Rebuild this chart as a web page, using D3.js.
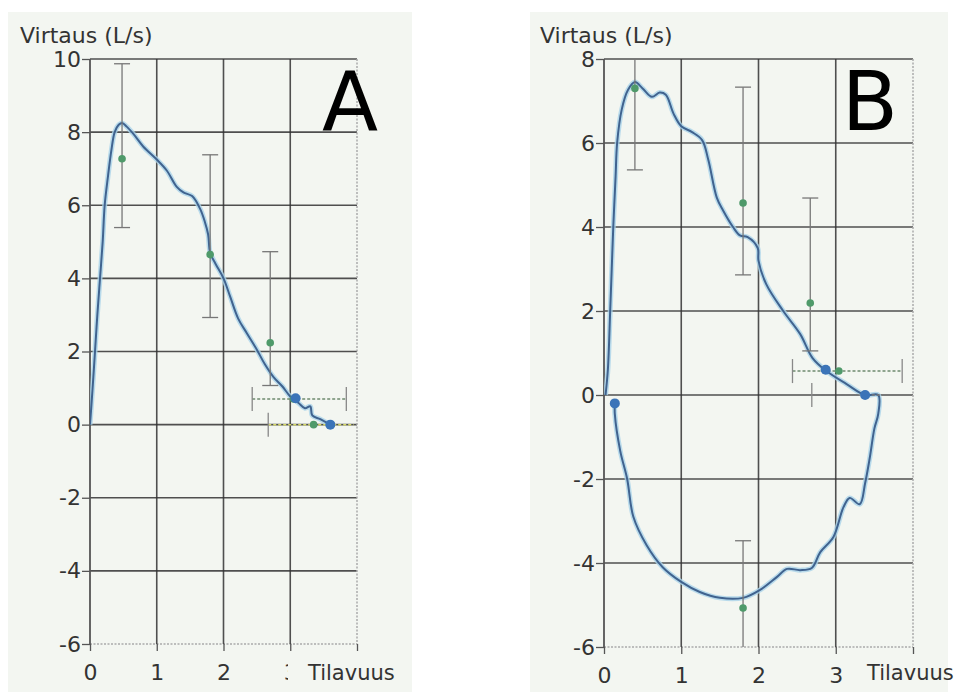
<!DOCTYPE html>
<html>
<head>
<meta charset="utf-8">
<script src="https://cdn.jsdelivr.net/npm/d3@7"></script>
<style>
  body { margin: 0; background: #fff; }
  text { font-family: "DejaVu Sans", Verdana, sans-serif; fill: #333; }
</style>
</head>
<body>
<svg width="956" height="692"></svg>
<script>
// flow-volume curve, panel A  [volume L, flow L/s]
var curveA = [
  [0.0, 0.0], [0.02, 0.5], [0.05, 1.3], [0.075, 2.0], [0.11, 3.0], [0.15, 4.0],
  [0.19, 5.0], [0.22, 6.0], [0.27, 6.8], [0.32, 7.5], [0.37, 8.0], [0.43, 8.2],
  [0.48, 8.25], [0.55, 8.15], [0.65, 7.95], [0.8, 7.6], [1.0, 7.25], [1.15, 6.95],
  [1.3, 6.5], [1.4, 6.35], [1.53, 6.25], [1.65, 5.9], [1.72, 5.55], [1.77, 5.2],
  [1.8, 4.7], [1.88, 4.4], [2.0, 4.0], [2.1, 3.5], [2.22, 2.9], [2.35, 2.5],
  [2.5, 2.05], [2.62, 1.65], [2.75, 1.3], [2.88, 1.05], [3.0, 0.77], [3.12, 0.6],
  [3.22, 0.45], [3.3, 0.5], [3.33, 0.25], [3.45, 0.15], [3.6, 0.0]
];
// panel B, expiration + inspiration loop
var curveB = [
  [0.02, 0.0], [0.05, 0.6], [0.08, 2.0], [0.1, 3.0], [0.12, 4.0], [0.15, 5.2],
  [0.17, 6.0], [0.23, 6.8], [0.31, 7.26], [0.4, 7.45], [0.5, 7.3], [0.62, 7.1],
  [0.72, 7.2], [0.8, 7.15], [0.9, 6.7], [1.0, 6.4], [1.14, 6.26], [1.27, 6.07],
  [1.35, 5.6], [1.46, 4.7], [1.54, 4.4], [1.67, 4.0], [1.76, 3.8], [1.86, 3.76],
  [1.99, 3.5], [2.0, 3.2], [2.1, 2.64], [2.32, 2.0], [2.54, 1.45], [2.7, 0.88],
  [2.88, 0.57], [3.14, 0.26], [3.38, 0.0], [3.55, 0.0], [3.55, -0.45], [3.5, -0.8],
  [3.44, -1.5], [3.38, -2.1], [3.31, -2.6], [3.18, -2.45], [3.1, -2.67], [2.97, -3.38],
  [2.8, -3.74], [2.69, -4.12], [2.54, -4.17], [2.37, -4.14], [2.24, -4.33], [2.02, -4.64],
  [1.8, -4.83], [1.5, -4.83], [1.24, -4.69], [1.0, -4.45], [0.76, -4.1], [0.55, -3.57],
  [0.38, -2.9], [0.3, -2.0], [0.21, -1.33], [0.14, -0.45], [0.14, -0.2]
];

// reference values with vertical error bars: [x, y, low, high]
var refA = [[0.48, 7.27, 5.39, 9.87], [1.8, 4.65, 2.93, 7.38], [2.7, 2.24, 1.07, 4.73]];
var refB = [[0.4, 7.3, 5.36, 9.5], [1.8, 4.57, 2.86, 7.33], [2.67, 2.19, 1.05, 4.69], [1.8, -5.07, -6.5, -3.47]];
// horizontal error bars: [y, from, to, colour-key]
var hbarA = [[0.7, 2.43, 3.84, "g"], [0.0, 2.67, 3.95, "y"]];
var hbarB = [[0.57, 2.44, 3.86, "g"], [0.0, 2.69, 3.6, "z"]];
// plain reference points
var greenA = [[3.05, 0.7], [3.35, 0.0]];
var greenB = [[3.04, 0.57]];
// measured points on the curve
var blueA = [[3.08, 0.72], [3.6, 0.0]];
var blueB = [[2.87, 0.6], [3.38, 0.0], [0.14, -0.2]];

var xTicks = [0, 1, 2, 3];
var yTicksA = [10, 8, 6, 4, 2, 0, -2, -4, -6];
var yTicksB = [8, 6, 4, 2, 0, -2, -4, -6];

var svg = d3.select("svg");
var bg = "#f3f6f1";

function panel(o) {
  var g = svg.append("g");
  g.append("rect").attr("x", o.bx).attr("y", 12).attr("width", o.bw).attr("height", 680).attr("fill", bg);

  var x = d3.scaleLinear().domain([0, 4]).range(o.xr);
  var y = d3.scaleLinear().domain(o.yd).range(o.yr);
  var top = o.yd[1], bot = o.yd[0];

  // grid
  g.selectAll(".hg").data(o.yTicks.filter(v => v != bot)).enter().append("line")
    .attr("x1", x(0)).attr("x2", x(4)).attr("y1", d => y(d)).attr("y2", d => y(d))
    .attr("stroke", "#333").attr("stroke-width", 1.6).attr("opacity", 0.85);
  g.append("line").attr("x1", x(0)).attr("x2", x(4)).attr("y1", y(bot)).attr("y2", y(bot))
    .attr("stroke", "#aaa").attr("stroke-width", 1.5).attr("stroke-dasharray", "2,1.5");
  g.selectAll(".vg").data([1, 2, 3]).enter().append("line")
    .attr("x1", d => x(d)).attr("x2", d => x(d)).attr("y1", y(top)).attr("y2", y(bot))
    .attr("stroke", "#333").attr("stroke-width", 1.6).attr("opacity", 0.85);
  g.append("line").attr("x1", x(4)).attr("x2", x(4)).attr("y1", y(top)).attr("y2", y(bot))
    .attr("stroke", "#aaa").attr("stroke-width", 1.5).attr("stroke-dasharray", "2,1.5");
  g.append("line").attr("x1", x(0)).attr("x2", x(0)).attr("y1", y(top)).attr("y2", y(bot))
    .attr("stroke", "#555").attr("stroke-width", 1.8);

  // axes (plain hyphen minus like the original software)
  var ya = g.append("g").attr("transform", "translate(" + x(0) + ",0)")
    .call(d3.axisLeft(y).tickValues(o.yTicks).tickSize(8).tickPadding(1).tickFormat(d => String(d)));
  var xa = g.append("g").attr("transform", "translate(0," + y(bot) + ")")
    .call(d3.axisBottom(x).tickValues([0, 1, 2, 3, 4]).tickSize(7).tickPadding(13)
      .tickFormat(d => xTicks.indexOf(d) >= 0 ? String(d) : ""));
  [ya, xa].forEach(a => {
    a.select(".domain").remove();
    a.selectAll("line").attr("stroke", "#555").attr("stroke-width", 1.3);
    a.selectAll("text").attr("font-size", 22).attr("fill", "#333");
  });

  g.append("text").attr("x", o.labelX).attr("y", 43).attr("font-size", 22).text("Virtaus (L/s)");
  if (o.cover) {
    g.append("rect").attr("x", o.cover).attr("y", 658).attr("width", 100).attr("height", 32).attr("fill", bg);
  }
  g.append("text").attr("x", o.tilX).attr("y", 680).attr("font-size", 21).text("Tilavuus");
  g.append("text").attr("x", o.letterX).attr("y", 130).attr("text-anchor", "end")
    .attr("font-size", 82).style("fill", "#000").text(o.letter);

  // clip for marks
  var cid = "clip" + o.letter;
  svg.append("clipPath").attr("id", cid).append("rect")
    .attr("x", x(0)).attr("y", y(top)).attr("width", x(4) - x(0)).attr("height", y(bot) - y(top));
  var m = g.append("g").attr("clip-path", "url(#" + cid + ")");

  // curve: light halo + line
  var line = d3.line().x(d => x(d[0])).y(d => y(d[1])).curve(d3.curveCatmullRom.alpha(0.5));
  m.append("path").attr("d", line(o.curve)).attr("fill", "none")
    .attr("stroke", "#a9d3ea").attr("stroke-width", 5).attr("opacity", 0.8);
  m.append("path").attr("d", line(o.curve)).attr("fill", "none")
    .attr("stroke", "#40638f").attr("stroke-width", 2);

  // horizontal bars
  var hcol = { g: "#6f8a6f", y: "#d6d96a", z: "#777" };
  o.hbar.forEach(h => {
    m.append("line").attr("x1", x(h[1])).attr("x2", x(h[2])).attr("y1", y(h[0])).attr("y2", y(h[0]))
      .attr("stroke", hcol[h[3]]).attr("stroke-width", 1.5).attr("stroke-dasharray", "3,2");
    [h[1], h[2]].forEach((v, i) => {
      if (h[3] != "g" && i == 1) return;
      m.append("line").attr("x1", x(v)).attr("x2", x(v)).attr("y1", y(h[0]) - 12).attr("y2", y(h[0]) + 12)
        .attr("stroke", "#888").attr("stroke-width", 1.3);
    });
  });

  // vertical error bars
  o.ref.forEach(r => {
    m.append("line").attr("x1", x(r[0])).attr("x2", x(r[0])).attr("y1", y(r[2])).attr("y2", y(r[3]))
      .attr("stroke", "#777").attr("stroke-width", 1.3);
    [r[2], r[3]].forEach(v => {
      m.append("line").attr("x1", x(r[0]) - 8).attr("x2", x(r[0]) + 8).attr("y1", y(v)).attr("y2", y(v))
        .attr("stroke", "#777").attr("stroke-width", 1.3);
    });
  });
  var greens = o.ref.map(r => [r[0], r[1]]).concat(o.green);
  m.selectAll(".gp").data(greens).enter().append("circle")
    .attr("cx", d => x(d[0])).attr("cy", d => y(d[1])).attr("r", 3.8).attr("fill", "#4f9a6a");
  m.selectAll(".bp").data(o.blue).enter().append("circle")
    .attr("cx", d => x(d[0])).attr("cy", d => y(d[1])).attr("r", 5).attr("fill", "#3b74b8");
}

panel({ letter: "A", bx: 8, bw: 404, xr: [90, 357], yd: [-6, 10], yr: [644, 59], yTicks: yTicksA,
  curve: curveA, ref: refA, hbar: hbarA, green: greenA, blue: blueA,
  labelX: 20, tilX: 308, cover: 288, letterX: 378 });
panel({ letter: "B", bx: 530, bw: 418, xr: [604, 913], yd: [-6, 8], yr: [647, 59], yTicks: yTicksB,
  curve: curveB, ref: refB, hbar: hbarB, green: greenB, blue: blueB,
  labelX: 540, tilX: 867, cover: null, letterX: 898 });
</script>
</body>
</html>
